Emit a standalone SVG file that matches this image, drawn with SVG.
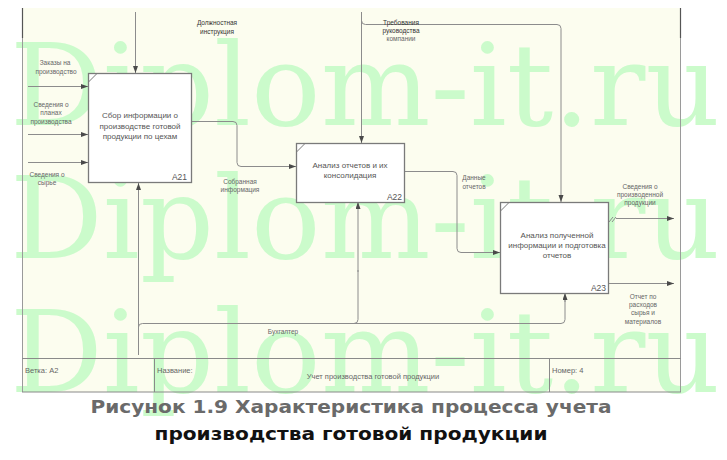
<svg xmlns="http://www.w3.org/2000/svg" width="727" height="460" viewBox="0 0 727 460">
<defs>
<marker id="ah" markerUnits="userSpaceOnUse" markerWidth="8" markerHeight="6" refX="7" refY="2.5" orient="auto"><path d="M0,0 L7,2.5 L0,5 z" fill="#4a4a4a"/></marker>
<style>
.wm{font-family:"DejaVu Serif",serif;font-size:114px;fill:#cbfbcb}
.ln{fill:none;stroke:#8c8c8c;stroke-width:1}
.ar{fill:none;stroke:#8c8c8c;stroke-width:1;marker-end:url(#ah)}
.box{fill:#ffffff;stroke:#7a7a7a;stroke-width:1.3}
.tick{stroke:#7a7a7a;stroke-width:1}
.bt{font-family:"Liberation Sans",Arial,sans-serif;font-size:8px;fill:#555;text-anchor:middle}
.id{font-family:"Liberation Sans",Arial,sans-serif;font-size:8.5px;fill:#555;text-anchor:end}
.lb{font-family:"Liberation Sans",Arial,sans-serif;font-size:6.5px;fill:#666;text-anchor:middle}
.lbd{font-family:"Liberation Sans",Arial,sans-serif;font-size:6.5px;fill:#333;text-anchor:middle}
.tb{font-family:"Liberation Sans",Arial,sans-serif;font-size:7.5px;fill:#666}
.cap{font-family:"DejaVu Sans",Verdana,sans-serif;font-weight:bold;font-size:18px;text-anchor:middle}
</style>
</defs>
<rect x="0" y="0" width="727" height="460" fill="#ffffff"/>
<rect x="22" y="8" width="658" height="384" fill="#fcfdef"/>
<g id="watermark">
<text class="wm" x="10" y="125" textLength="710" lengthAdjust="spacingAndGlyphs">Diplom-it.ru</text>
<text class="wm" x="10" y="258" textLength="710" lengthAdjust="spacingAndGlyphs">Diplom-it.ru</text>
<text class="wm" x="10" y="392" textLength="710" lengthAdjust="spacingAndGlyphs">Diplom-it.ru</text>
</g>
<g id="frame">
<line x1="22.5" y1="8" x2="22.5" y2="392" stroke="#9a9a9a" stroke-width="1"/>
<line x1="22.5" y1="8" x2="22.5" y2="38" stroke="#555" stroke-width="1.2"/>
<line x1="680.5" y1="8" x2="680.5" y2="392" stroke="#9a9a9a" stroke-width="1"/>
<line x1="680.5" y1="8" x2="680.5" y2="38" stroke="#555" stroke-width="1.2"/>
<line x1="22" y1="358.5" x2="681" y2="358.5" stroke="#8a8a8a" stroke-width="1"/>
<line x1="22" y1="392" x2="681" y2="392" stroke="#8a8a8a" stroke-width="1.2"/>
<line x1="154.5" y1="358" x2="154.5" y2="392" stroke="#8a8a8a" stroke-width="1"/>
<line x1="549.5" y1="358" x2="549.5" y2="392" stroke="#8a8a8a" stroke-width="1"/>
<text class="tb" x="25" y="373">Ветка: А2</text>
<text class="tb" x="157" y="373">Название:</text>
<text class="tb" x="373" y="379" text-anchor="middle">Учет производства готовой продукции</text>
<text class="tb" x="552" y="373">Номер: 4</text>
</g>
<g id="connectors">
<path class="ar" d="M28,86.5 H88"/>
<path class="ar" d="M28,134.5 H88"/>
<path class="ar" d="M28,162.5 H88"/>
<path class="ar" d="M135.5,12 V73"/>
<path class="ar" d="M191,121.5 H233 Q237,121.5 237,125.5 V162.5 Q237,166.5 241,166.5 H296"/>
<path class="ar" d="M361.5,12 V143"/>
<path class="ar" d="M361.5,20.5 Q361.5,24.5 365.5,24.5 H557 Q561,24.5 561,28.5 V202"/>
<path class="ar" d="M404,171.5 H453 Q457,171.5 457,175.5 V248.5 Q457,252.5 461,252.5 H500"/>
<path class="ln" d="M609,222 L613,217 M612,222 L616,217"/>
<path class="ar" d="M616,218.5 H674"/>
<path class="ar" d="M608,283.5 H674"/>
<path class="ar" d="M138.5,355 V183"/>
<path class="ln" d="M138.5,327 Q138.5,323.5 142.5,323.5 H354 Q358,323.5 358,319.5 V270"/>
<path class="ar" d="M358,272 V202"/>
<path class="ln" d="M354,323.5 H561 Q565,323.5 565,319.5 V300"/>
<path class="ar" d="M565,302 V293"/>
<text class="lb" x="55" y="65">Заказы на</text>
<text class="lb" x="56" y="74">производство</text>
<text class="lb" x="51" y="107">Сведения о</text>
<text class="lb" x="51" y="115">планах</text>
<text class="lb" x="51" y="124">производства</text>
<text class="lb" x="47" y="177">Сведения о</text>
<text class="lb" x="47" y="185">сырье</text>
<text class="lbd" x="217" y="25">Должностная</text>
<text class="lbd" x="217" y="34">инструкция</text>
<text class="lbd" x="401" y="25">Требования</text>
<text class="lbd" x="401" y="33">руководства</text>
<text class="lb" x="401" y="41">компании</text>
<text class="lb" x="240" y="184">Собранная</text>
<text class="lb" x="240" y="192">информация</text>
<text class="lb" x="474" y="180">Данные</text>
<text class="lb" x="474" y="189">отчетов</text>
<text class="lb" x="640" y="189">Сведения о</text>
<text class="lb" x="640" y="197">производенной</text>
<text class="lb" x="640" y="205">продукции</text>
<text class="lb" x="643" y="299">Отчет по</text>
<text class="lb" x="643" y="307">расходов</text>
<text class="lb" x="643" y="315">сырья и</text>
<text class="lb" x="643" y="324">материалов</text>
<text class="lb" x="283" y="334">Бухгалтер</text>
</g>
<g id="A21">
<rect class="box" x="88.5" y="73.5" width="103" height="109"/>
<line class="tick" x1="88.5" y1="82" x2="97" y2="73.5"/>
<text class="bt" x="140" y="118">Сбор информации о</text>
<text class="bt" x="140" y="129">производстве готовой</text>
<text class="bt" x="140" y="139">продукции по цехам</text>
<text class="id" x="187" y="180">A21</text>
</g>
<g id="A22">
<rect class="box" x="296.5" y="143.5" width="108" height="59"/>
<line class="tick" x1="296.5" y1="152" x2="305" y2="143.5"/>
<text class="bt" x="350" y="168">Анализ отчетов и их</text>
<text class="bt" x="350" y="178">консолидация</text>
<text class="id" x="402" y="200">A22</text>
</g>
<g id="A23">
<rect class="box" x="500.5" y="202.5" width="108" height="91"/>
<line class="tick" x1="500.5" y1="211" x2="509" y2="202.5"/>
<text class="bt" x="557" y="238">Анализ полученной</text>
<text class="bt" x="557" y="248">информации и подготовка</text>
<text class="bt" x="557" y="258">отчетов</text>
<text class="id" x="606" y="291">A23</text>
</g>
<g id="caption">
<text class="cap" x="351" y="413" fill="#6a6a6a" textLength="521" lengthAdjust="spacingAndGlyphs">Рисунок 1.9 Характеристика процесса учета</text>
<text class="cap" x="351" y="440" fill="#111111" textLength="393" lengthAdjust="spacingAndGlyphs">производства готовой продукции</text>
</g>
</svg>
